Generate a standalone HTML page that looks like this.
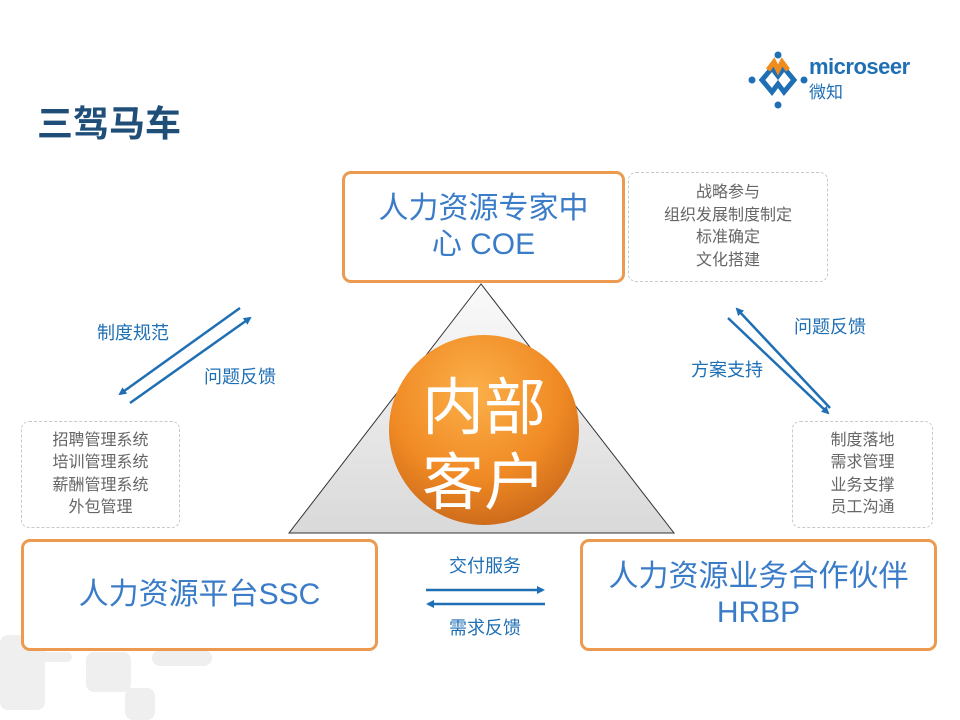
<!DOCTYPE html>
<html><head><meta charset="utf-8"><style>
body{margin:0;width:960px;height:720px;overflow:hidden;background:#fff;position:relative;font-family:"Liberation Sans","Noto Sans CJK SC",sans-serif}
.a{position:absolute}
.box{position:absolute;border:3px solid #eb9a4f;border-radius:9px;background:#fff;box-sizing:border-box;color:#3b7cc8;font-size:30px;text-align:center;display:flex;flex-direction:column;justify-content:center;line-height:36px}
.dash{position:absolute;border:1.5px dashed #c8c8c8;border-radius:8px;box-sizing:border-box;color:#666;font-size:16px;line-height:22.5px;text-align:center;display:flex;flex-direction:column;justify-content:center}
.lb{position:absolute;color:#1f6fb5;font-size:18px;white-space:nowrap;transform:translate(-50%,-50%)}
.g{position:absolute;background:#efefef;border-radius:8px}
</style></head><body>
<div class="g" style="left:0;top:635px;width:45px;height:75px"></div>
<div class="g" style="left:20px;top:652px;width:52px;height:10px"></div>
<div class="g" style="left:86px;top:652px;width:45px;height:40px"></div>
<div class="g" style="left:125px;top:688px;width:30px;height:32px"></div>
<div class="g" style="left:152px;top:650px;width:60px;height:16px"></div>
<div class="a" style="left:37px;top:95px;font-size:36px;font-weight:bold;color:#1f4e79">三驾马车</div>
<svg class="a" style="left:748px;top:50px" width="60" height="60" viewBox="0 0 60 60">
<g fill="none" stroke="#1f6fb5" stroke-width="5"><path d="M14 30 L24 18 L30 26 L36 18 L46 30 L36 42 L30 34 L24 42 Z"/></g>
<path d="M20 20 L26 12 L30 20 L34 12 L40 20" stroke="#f08c1e" stroke-width="5" fill="none"/>
<circle cx="30" cy="5" r="3.5" fill="#1f6fb5"/><circle cx="30" cy="55" r="3.5" fill="#1f6fb5"/><circle cx="4" cy="30" r="3.5" fill="#1f6fb5"/><circle cx="56" cy="30" r="3.5" fill="#1f6fb5"/>
</svg>
<div class="a" style="left:809px;top:54px;font-size:22px;color:#1f6fb5;font-weight:bold;letter-spacing:-0.5px">microseer</div>
<div class="a" style="left:809px;top:78px;font-size:17px;color:#1f6fb5">微知</div>
<svg class="a" style="left:0;top:0" width="960" height="720">
<defs>
<linearGradient id="tg" x1="0" y1="0" x2="0" y2="1"><stop offset="0" stop-color="#fafafa"/><stop offset="1" stop-color="#d9d9d9"/></linearGradient>
<radialGradient id="cg" cx="0.45" cy="0.3" r="0.75"><stop offset="0" stop-color="#fbb04a"/><stop offset="0.6" stop-color="#f08a24"/><stop offset="1" stop-color="#c8661a"/></radialGradient>
<marker id="m" markerWidth="8" markerHeight="8" refX="6" refY="4" orient="auto" markerUnits="userSpaceOnUse"><path d="M0 0 L8 4 L0 8 Z" fill="#1f6fb5"/></marker>
</defs>
<polygon points="481,284 289,533 674,533" fill="url(#tg)" stroke="#333" stroke-width="1"/>
<circle cx="484" cy="430" r="95" fill="url(#cg)"/>
<g stroke="#1f6fb5" stroke-width="2.5">
<line x1="240" y1="308" x2="120" y2="394" marker-end="url(#m)"/>
<line x1="130" y1="403" x2="250" y2="318" marker-end="url(#m)"/>
<line x1="830" y1="408" x2="737" y2="309" marker-end="url(#m)"/>
<line x1="728" y1="318" x2="828" y2="413" marker-end="url(#m)"/>
<line x1="426" y1="590" x2="543" y2="590" marker-end="url(#m)"/>
<line x1="545" y1="604" x2="428" y2="604" marker-end="url(#m)"/>
</g>
</svg>
<div class="a" style="left:384px;top:371px;width:200px;text-align:center;color:#fff;font-size:62px;line-height:75px">内部<br>客户</div>
<div class="box" style="left:342px;top:171px;width:283px;height:112px">人力资源专家中<br>心 COE</div>
<div class="dash" style="left:628px;top:172px;width:200px;height:110px">战略参与<br>组织发展制度制定<br>标准确定<br>文化搭建</div>
<div class="dash" style="left:21px;top:421px;width:159px;height:107px">招聘管理系统<br>培训管理系统<br>薪酬管理系统<br>外包管理</div>
<div class="dash" style="left:792px;top:421px;width:141px;height:107px">制度落地<br>需求管理<br>业务支撑<br>员工沟通</div>
<div class="box" style="left:21px;top:539px;width:357px;height:112px">人力资源平台SSC</div>
<div class="box" style="left:580px;top:539px;width:357px;height:112px">人力资源业务合作伙伴<br>HRBP</div>
<div class="lb" style="left:133px;top:332px">制度规范</div>
<div class="lb" style="left:240px;top:376px">问题反馈</div>
<div class="lb" style="left:830px;top:326px">问题反馈</div>
<div class="lb" style="left:727px;top:369px">方案支持</div>
<div class="lb" style="left:485px;top:565px">交付服务</div>
<div class="lb" style="left:485px;top:627px">需求反馈</div>
</body></html>
